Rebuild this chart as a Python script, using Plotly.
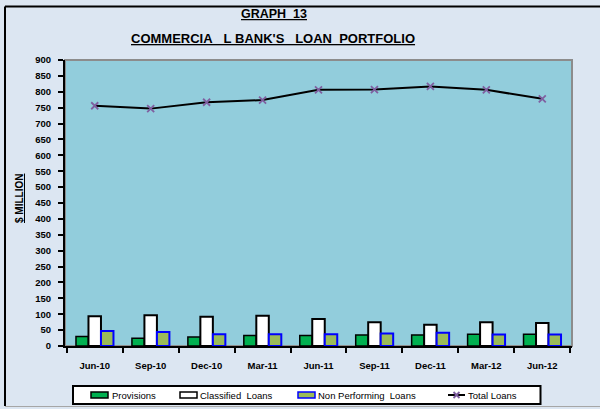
import plotly.graph_objects as go

categories = ["Jun-10", "Sep-10", "Dec-10", "Mar-11", "Jun-11", "Sep-11", "Dec-11", "Mar-12", "Jun-12"]
provisions = [30, 24, 28, 33, 33, 35, 35, 37, 37]
classified_loans = [94, 97, 92, 95, 85, 75, 67, 75, 72]
non_performing = [47, 44, 37, 37, 37, 39, 42, 36, 36]
total_loans = [756, 747, 767, 774, 806, 807, 817, 806, 778]
series_names = ["Provisions", "Classified  Loans", "Non Performing  Loans", "Total Loans"]

FONT = "Liberation Sans"
W, H = 600, 409
L, R, T, B = 65, 28, 60, 63
pw, ph = W - L - R, H - T - B

def px(x):
    return (x - L) / pw

def py(y):
    return (H - B - y) / ph

fig = go.Figure()
fig.add_trace(go.Bar(x=categories, y=provisions, name=series_names[0],
                     marker=dict(color="#00B050", line=dict(color="black", width=1.5))))
fig.add_trace(go.Bar(x=categories, y=classified_loans, name=series_names[1],
                     marker=dict(color="white", line=dict(color="black", width=2))))
fig.add_trace(go.Bar(x=categories, y=non_performing, name=series_names[2],
                     marker=dict(color="#9BBB59", line=dict(color="#0000FF", width=2))))
fig.add_trace(go.Scatter(x=categories, y=total_loans, name=series_names[3], mode="lines+markers",
                         line=dict(color="black", width=2),
                         marker=dict(symbol="x-thin", size=7, color="#7F5FA0",
                                     line=dict(color="#7F5FA0", width=1.8))))

shapes = [
    dict(type="rect", xref="paper", yref="paper", x0=0, x1=1, y0=0, y1=1,
         line=dict(color="#8C8C8C", width=2), layer="below"),
    dict(type="line", xref="paper", yref="paper", x0=px(5), x1=px(600), y0=py(6.5), y1=py(6.5),
         line=dict(color="black", width=2)),
    dict(type="line", xref="paper", yref="paper", x0=px(5), x1=px(5), y0=py(6.5), y1=py(406),
         line=dict(color="black", width=2)),
    dict(type="line", xref="paper", yref="paper", x0=px(5), x1=px(600), y0=py(406.5), y1=py(406.5),
         line=dict(color="#A6A6A6", width=1)),
    # legend box
    dict(type="rect", xref="paper", yref="paper", x0=px(73), x1=px(540.5), y0=py(386), y1=py(404),
         fillcolor="white", line=dict(color="black", width=2)),
]

leg_y = 395
entries = [
    dict(sym=(91, 108), fill="#00B050", line="black"),
    dict(sym=(180, 197), fill="white", line="black"),
    dict(sym=(298, 315), fill="#9BBB59", line="#0000FF"),
]
for e in entries:
    shapes.append(dict(type="rect", xref="paper", yref="paper",
                       x0=px(e["sym"][0]), x1=px(e["sym"][1]), y0=py(leg_y + 3), y1=py(leg_y - 3),
                       fillcolor=e["fill"], line=dict(color=e["line"], width=1.5)))
shapes.append(dict(type="line", xref="paper", yref="paper", x0=px(448), x1=px(465),
                   y0=py(leg_y), y1=py(leg_y), line=dict(color="black", width=2)))
shapes.append(dict(type="path", xref="paper", yref="paper",
                   path=f"M {px(453.5)} {py(leg_y-3)} L {px(459.5)} {py(leg_y+3)} M {px(453.5)} {py(leg_y+3)} L {px(459.5)} {py(leg_y-3)}",
                   line=dict(color="#7F5FA0", width=1.8)))

annotations = [
    dict(text="<b><u>GRAPH\u00a0\u00a013</u></b>", xref="paper", yref="paper",
         x=px(274), y=py(14.5), xanchor="center", yanchor="middle", showarrow=False,
         font=dict(family=FONT, size=12.5, color="black")),
    dict(text="<b><u>COMMERCIA\u00a0\u00a0\u00a0L\u00a0BANK'S\u00a0\u00a0\u00a0LOAN\u00a0\u00a0PORTFOLIO</u></b>",
         xref="paper", yref="paper",
         x=px(273), y=py(38.5), xanchor="center", yanchor="middle", showarrow=False,
         font=dict(family=FONT, size=13, color="black")),
    dict(text="<b><u>$ MILLION</u></b>", xref="paper", yref="paper",
         x=px(19), y=py(199), xanchor="center", yanchor="middle", showarrow=False,
         textangle=-90, font=dict(family=FONT, size=10, color="black")),
]
text_x = [110, 198, 316, 466]
for name, tx in zip(series_names, text_x):
    annotations.append(dict(text=name, xref="paper", yref="paper", x=px(tx), y=py(leg_y),
                            xanchor="left", yanchor="middle", showarrow=False,
                            font=dict(family=FONT, size=9.5, color="black")))

fig.update_layout(
    width=W, height=H,
    margin=dict(l=L, r=R, t=T, b=B, autoexpand=False),
    paper_bgcolor="#DCE6F2",
    plot_bgcolor="#92CDDC",
    barmode="group",
    bargap=0.33,
    bargroupgap=0.0,
    font=dict(family=FONT, size=8, color="black"),
    showlegend=False,
    xaxis=dict(showline=True, linecolor="black", linewidth=2, ticks="outside",
               tickson="boundaries", ticklen=5, tickcolor="black", tickwidth=1.5,
               ticklabelstandoff=10,
               tickfont=dict(family=FONT, size=9.5, color="black", weight="bold"),
               showgrid=False, zeroline=False),
    yaxis=dict(range=[0, 900], dtick=50, showline=True, linecolor="black", linewidth=2,
               ticks="outside", ticklen=5, tickcolor="black", tickwidth=1.5,
               ticklabelstandoff=5,
               tickfont=dict(family=FONT, size=9.5, color="black", weight="bold"),
               showgrid=False, zeroline=False),
    shapes=shapes,
    annotations=annotations,
)

fig.write_html("out.html", config={"displayModeBar": False},
               post_script="document.body.style.margin='0';document.body.style.padding='0';")
